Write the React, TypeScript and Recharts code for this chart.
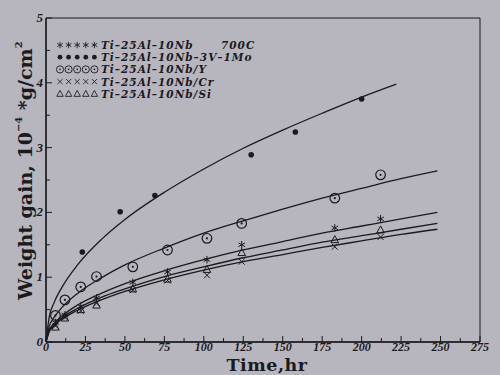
import React from "react";
import {
  ComposedChart,
  Line,
  Scatter,
  XAxis,
  YAxis,
  ReferenceArea,
} from "recharts";

// measured points, time in hr, gain in 1e-4 g/cm^2
const baseT = [6, 12, 22, 32, 55, 77, 102, 124, 183, 212];
const baseV = [0.3, 0.42, 0.55, 0.68, 0.92, 1.08, 1.27, 1.5, 1.76, 1.9];
const moT = [23, 47, 69, 130, 158, 200];
const moV = [1.39, 2.01, 2.26, 2.89, 3.24, 3.75];
const yT = [6, 12, 22, 32, 55, 77, 102, 124, 183, 212];
const yV = [0.41, 0.65, 0.85, 1.01, 1.16, 1.42, 1.6, 1.83, 2.22, 2.58];
const crT = [6, 12, 22, 32, 55, 77, 102, 124, 183, 212];
const crV = [0.25, 0.38, 0.48, 0.6, 0.8, 0.95, 1.03, 1.24, 1.47, 1.62];
const siT = [6, 12, 22, 32, 55, 77, 102, 124, 183, 212];
const siV = [0.23, 0.37, 0.5, 0.57, 0.82, 0.97, 1.12, 1.38, 1.58, 1.73];

// fitted curves
const moCurveT = [0, 2, 5, 10, 20, 35, 50, 75, 100, 125, 150, 175, 200, 222];
const moCurveV = [0, 0.38, 0.6, 0.84, 1.19, 1.58, 1.89, 2.31, 2.67, 2.99, 3.27, 3.53, 3.78, 3.98];
const curveT = [0, 2, 5, 10, 20, 35, 50, 75, 100, 125, 150, 175, 200, 225, 248];
const yCurveV = [0, 0.24, 0.375, 0.53, 0.75, 0.99, 1.19, 1.45, 1.68, 1.87, 2.05, 2.22, 2.37, 2.52, 2.64];
const baseCurveV = [0, 0.18, 0.28, 0.4, 0.57, 0.75, 0.9, 1.1, 1.27, 1.42, 1.55, 1.68, 1.79, 1.9, 2.0];
const siCurveV = [0, 0.16, 0.26, 0.37, 0.52, 0.69, 0.82, 1.01, 1.16, 1.3, 1.42, 1.54, 1.64, 1.74, 1.83];
const crCurveV = [0, 0.16, 0.25, 0.35, 0.49, 0.65, 0.78, 0.96, 1.11, 1.24, 1.35, 1.46, 1.56, 1.66, 1.74];

const xTicks = [0, 12.5, 25, 37.5, 50, 62.5, 75, 87.5, 100, 112.5, 125, 137.5, 150, 162.5, 175, 187.5, 200, 212.5, 225, 237.5, 250, 262.5, 275];
const yTicks = [0, 0.5, 1, 1.5, 2, 2.5, 3, 3.5, 4, 4.5, 5];

const legendRows = [
  { shape: "star", label: "Ti\u201325Al\u201310Nb" },
  { shape: "dot", label: "Ti\u201325Al\u201310Nb\u20133V\u20131Mo" },
  { shape: "odot", label: "Ti\u201325Al\u201310Nb/Y" },
  { shape: "cross", label: "Ti\u201325Al\u201310Nb/Cr" },
  { shape: "tri", label: "Ti\u201325Al\u201310Nb/Si" },
];

const INK = "#1b1a1e";
const BG = "#b7b5bd";
const tickFont = "'Liberation Serif', serif";
const textFont = "'DejaVu Serif', serif";

const pts = (ts: number[], vs: number[]) => ts.map((t, i) => ({ t, v: vs[i] }));

const Marker = ({ kind, cx, cy }: { kind: string; cx: number; cy: number }) => {
  if (kind === "dot") return <circle cx={cx} cy={cy} r={2.8} fill={INK} />;
  if (kind === "odot")
    return (
      <g>
        <circle cx={cx} cy={cy} r={4.8} fill="none" stroke={INK} strokeWidth={1.2} />
        <circle cx={cx} cy={cy} r={1.1} fill={INK} />
      </g>
    );
  if (kind === "cross")
    return (
      <g stroke={INK} strokeWidth={1}>
        <line x1={cx - 3} y1={cy - 3} x2={cx + 3} y2={cy + 3} />
        <line x1={cx - 3} y1={cy + 3} x2={cx + 3} y2={cy - 3} />
      </g>
    );
  if (kind === "tri")
    return (
      <polygon
        points={`${cx},${cy - 4} ${cx - 3.8},${cy + 3} ${cx + 3.8},${cy + 3}`}
        fill="none"
        stroke={INK}
        strokeWidth={1}
      />
    );
  // asterisk
  return (
    <g stroke={INK} strokeWidth={1}>
      <line x1={cx} y1={cy - 3.8} x2={cx} y2={cy + 3.8} />
      <line x1={cx - 3.3} y1={cy - 1.9} x2={cx + 3.3} y2={cy + 1.9} />
      <line x1={cx - 3.3} y1={cy + 1.9} x2={cx + 3.3} y2={cy - 1.9} />
    </g>
  );
};

const shapeOf = (kind: string) => (p: any) => <Marker kind={kind} cx={p.cx} cy={p.cy} />;

const XTick = ({ x, y, payload }: any) => {
  const major = payload.value % 25 === 0;
  return (
    <g>
      <line x1={x} y1={y} x2={x} y2={y - (major ? 6 : 4)} stroke={INK} strokeWidth={1} />
      {major && (
        <text x={x} y={y + 9} textAnchor="middle" fontFamily={tickFont} fontWeight="bold" fontStyle="italic" fontSize={12} fill={INK}>
          {payload.value}
        </text>
      )}
    </g>
  );
};

const YTick = ({ x, y, payload }: any) => {
  const major = Number.isInteger(payload.value);
  return (
    <g>
      <line x1={x} y1={y} x2={x + (major ? 6 : 4)} y2={y} stroke={INK} strokeWidth={1} />
      {major && (
        <text x={x - 3} y={y + 4} textAnchor="end" fontFamily={tickFont} fontWeight="bold" fontStyle="italic" fontSize={13} fill={INK}>
          {payload.value}
        </text>
      )}
    </g>
  );
};

export default function App() {
  const curve = { type: "monotone" as const, stroke: INK, strokeWidth: 1.3, dot: false, isAnimationActive: false };
  return (
    <div style={{ position: "absolute", left: 0, top: 0, width: 500, height: 375, background: BG }}>
      <ComposedChart width={500} height={375} margin={{ top: 18, right: 20, bottom: 3, left: 6 }}>
        <XAxis
          type="number"
          dataKey="t"
          domain={[0, 275]}
          ticks={xTicks}
          interval={0}
          height={30}
          tickSize={0}
          tickMargin={0}
          tick={<XTick />}
          axisLine={{ stroke: INK, strokeWidth: 1.6 }}
          tickLine={false}
        />
        <YAxis
          type="number"
          dataKey="v"
          domain={[0, 5]}
          ticks={yTicks}
          interval={0}
          width={40}
          tickSize={0}
          tickMargin={0}
          tick={<YTick />}
          axisLine={{ stroke: INK, strokeWidth: 1.4 }}
          tickLine={false}
        />
        <ReferenceArea x1={0} x2={275} y1={0} y2={5} fill="#000" fillOpacity={0} stroke={INK} strokeWidth={1} ifOverflow="visible" />
        <Line data={pts(moCurveT, moCurveV)} dataKey="v" {...curve} />
        <Line data={pts(curveT, yCurveV)} dataKey="v" {...curve} />
        <Line data={pts(curveT, baseCurveV)} dataKey="v" {...curve} />
        <Line data={pts(curveT, siCurveV)} dataKey="v" {...curve} />
        <Line data={pts(curveT, crCurveV)} dataKey="v" {...curve} />
        <Scatter data={pts(baseT, baseV)} dataKey="v" shape={shapeOf("star")} isAnimationActive={false} />
        <Scatter data={pts(moT, moV)} dataKey="v" shape={shapeOf("dot")} isAnimationActive={false} />
        <Scatter data={pts(yT, yV)} dataKey="v" shape={shapeOf("odot")} isAnimationActive={false} />
        <Scatter data={pts(crT, crV)} dataKey="v" shape={shapeOf("cross")} isAnimationActive={false} />
        <Scatter data={pts(siT, siV)} dataKey="v" shape={shapeOf("tri")} isAnimationActive={false} />
      </ComposedChart>
      <svg width={500} height={375} style={{ position: "absolute", left: 0, top: 0, pointerEvents: "none" }}>
        {legendRows.map((row, i) => {
          const cy = 45 + i * 12.2;
          return (
            <g key={row.label}>
              {[0, 1, 2, 3, 4].map((k) => (
                <g key={k} transform={`translate(${60 + k * 8.6},${cy}) scale(${row.shape === "odot" ? 0.75 : 0.85})`}>
                  <Marker kind={row.shape} cx={0} cy={0} />
                </g>
              ))}
              <text x={101} y={cy + 4} fontFamily={textFont} fontWeight="bold" fontStyle="italic" fontSize={10.5} letterSpacing={1} fill={INK}>
                {row.label}
              </text>
            </g>
          );
        })}
        <text x={221} y={49} fontFamily={textFont} fontWeight="bold" fontStyle="italic" fontSize={10.5} letterSpacing={1} fill={INK}>
          700C
        </text>
        <text x={267} y={370.5} textAnchor="middle" fontFamily={textFont} fontWeight="bold" fontSize={17.5} letterSpacing={0.5} fill={INK}>
          Time,hr
        </text>
        <text x={32} y={300} transform="rotate(-90 32 300)" fontFamily={textFont} fontWeight="bold" fontSize={19} fill={INK}>
          Weight gain, 10
          <tspan fontSize={10} dy={-10}>{"\u22124"}</tspan>
          <tspan dy={10}> *g/cm</tspan>
          <tspan fontSize={10} dy={-10}>2</tspan>
        </text>
      </svg>
    </div>
  );
}
